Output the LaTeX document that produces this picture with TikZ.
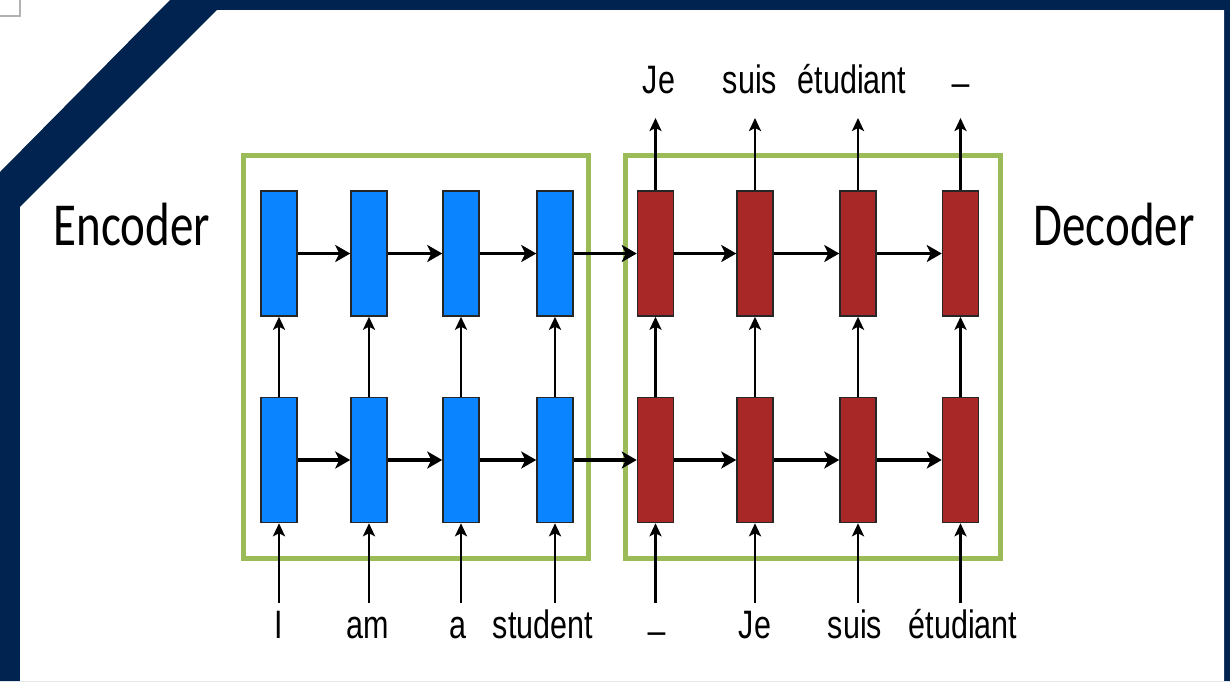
\documentclass[tikz,border=0pt]{standalone}
\usepackage{fontspec}
\setmainfont{Liberation Sans}
\newfontfamily\headfont{Carlito}
\usetikzlibrary{arrows.meta}
\definecolor{navy}{HTML}{012350}
\definecolor{framegreen}{HTML}{9BBB59}
\definecolor{encblue}{HTML}{0A84FF}
\definecolor{decred}{HTML}{A82828}
\tikzset{
  cell/.style={draw=black!85, line width=1.5pt, minimum width=36pt, minimum height=125pt, inner sep=0pt},
  enccell/.style={cell, fill=encblue},
  deccell/.style={cell, fill=decred},
  frame/.style={draw=framegreen, line width=5pt},
  flow/.style={line width=3.8pt, -{Stealth[length=15pt, width=17pt, inset=4pt]}},
  feed/.style={line width=2.6pt, -{Stealth[length=13pt, width=12pt, inset=3pt]}},
  word/.style={font=\fontsize{30.5pt}{32pt}\selectfont, anchor=base, inner sep=0pt},
  title/.style={font=\headfont\fontsize{47pt}{50pt}\selectfont, anchor=base, inner sep=0pt}
}
\newcommand{\tall}[1]{\scalebox{1}[1.3]{#1}}
\begin{document}
\begin{tikzpicture}[x=1pt, y=-1pt]
  \useasboundingbox (0,0) rectangle (1230,681);
  % page background and the slide's navy border
  \fill[white] (0,0) rectangle (1230,681);
  \fill[navy] (0,172) -- (170,0) -- (1230,0) -- (1230,681) -- (0,681) -- cycle;
  \fill[white] (20,207) -- (217,10) -- (1224,10) -- (1224,681) -- (20,681) -- cycle;
  \draw[gray!60, fill=white, line width=1.5pt] (-2,-2) rectangle (20,16);

  % encoder and decoder frames
  \draw[frame] (243,155) rectangle (588,558);
  \draw[frame] (625,155) rectangle (1000,558);

  % recurrent cells: top and bottom layers
  \foreach \i/\x in {1/279, 2/369, 3/461, 4/555} {
    \node[enccell] (e\i t) at (\x,253.5) {};
    \node[enccell] (e\i b) at (\x,460) {};
  }
  \foreach \i/\x in {1/655.5, 2/755, 3/858, 4/960.5} {
    \node[deccell] (d\i t) at (\x,253.5) {};
    \node[deccell] (d\i b) at (\x,460) {};
  }

  % horizontal state flow
  \foreach \l in {t, b} {
    \draw[flow] (e1\l) -- (e2\l);
    \draw[flow] (e2\l) -- (e3\l);
    \draw[flow] (e3\l) -- (e4\l);
    \draw[flow] (e4\l) -- (d1\l);
    \draw[flow] (d1\l) -- (d2\l);
    \draw[flow] (d2\l) -- (d3\l);
    \draw[flow] (d3\l) -- (d4\l);
  }

  % inputs, layer links and outputs
  \foreach \c in {e1, e2, e3, e4, d1, d2, d3, d4} {
    \coordinate (\c in) at (\c b.south |- 0,603);
    \draw[feed] (\c in) -- (\c b.south);
    \draw[feed] (\c b.north) -- (\c t.south);
  }
  \foreach \c in {d1, d2, d3, d4} {
    \coordinate (\c out) at (\c t.north |- 0,118);
    \draw[feed] (\c t.north) -- (\c out);
  }

  % input words
  \node[word] (w1) at (279,638) {\tall{I}};
  \node[word] (w2) at (368,638) {\tall{am}};
  \node[word] (w3) at (458,638) {\tall{a}};
  \node[word] (w4) at (543,638) {\tall{student}};
  \node[word] (w5) at (657,627) {\tall{\_}};
  \node[word] (w6) at (755,638) {\tall{Je}};
  \node[word] (w7) at (855,638) {\tall{suis}};
  \node[word] (w8) at (963,638) {\tall{étudiant}};

  % output words
  \node[word] (o1) at (659,93) {\tall{Je}};
  \node[word] (o2) at (750,93) {\tall{suis}};
  \node[word] (o3) at (852,93) {\tall{étudiant}};
  \node[word] (o4) at (961,79) {\tall{\_}};

  % side titles
  \node[title] (enc) at (132,245) {\tall{Encoder}};
  \node[title] (dec) at (1114,245) {\tall{Decoder}};
\end{tikzpicture}
\end{document}
